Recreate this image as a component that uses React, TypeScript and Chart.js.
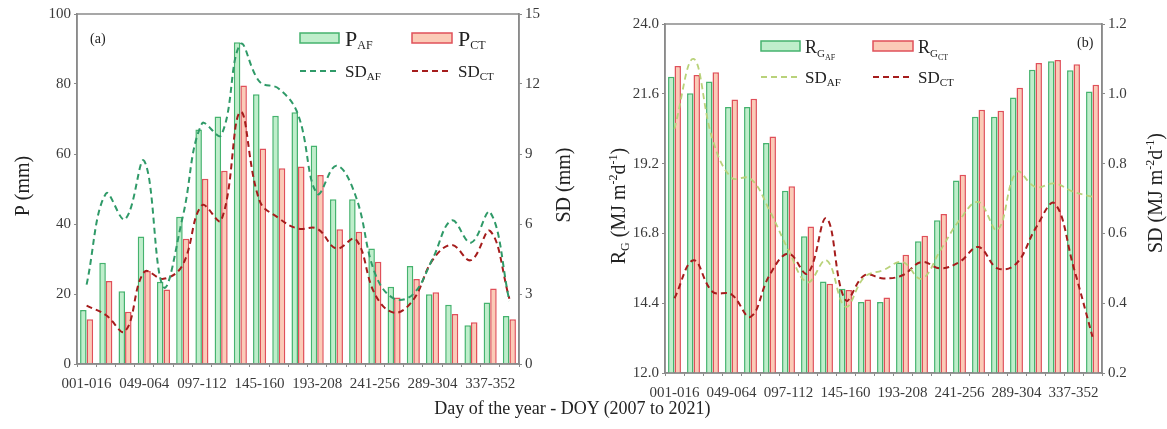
import React, { useEffect, useRef } from "react";
import { Chart, registerables } from "chart.js";
Chart.register(...registerables);

const categories = ["001-016","017-032","033-048","049-064","065-080","081-096","097-112","113-128","129-144","145-160","161-176","177-192","193-208","209-224","225-240","241-256","257-272","273-288","289-304","305-320","321-336","337-352","353-365"];

const pAF = [15.4, 28.9, 20.8, 36.4, 23.5, 42.1, 67.0, 70.7, 91.9, 77.1, 70.9, 71.9, 62.4, 47.1, 47.1, 33.0, 22.1, 28.0, 19.9, 16.9, 11.1, 17.6, 13.7];
const pCT = [12.8, 23.7, 14.9, 26.6, 21.3, 35.8, 52.9, 55.2, 79.6, 61.6, 55.9, 56.4, 54.0, 38.5, 37.8, 29.2, 19.0, 24.3, 20.5, 14.3, 11.9, 21.6, 12.8];
const sdPAF = [3.4, 7.3, 6.2, 8.7, 3.3, 6.3, 10.3, 9.8, 13.7, 12.1, 11.8, 10.7, 7.3, 8.5, 7.2, 3.9, 2.8, 3.0, 4.5, 6.15, 5.2, 6.5, 2.7];
const sdPCT = [2.5, 2.1, 1.4, 3.95, 3.65, 4.25, 6.8, 6.15, 10.8, 7.0, 6.25, 5.8, 5.8, 4.95, 5.35, 3.0, 2.2, 2.75, 4.45, 5.1, 4.45, 5.7, 2.8];

const rgAF = [22.19, 21.62, 22.02, 21.15, 21.15, 19.91, 18.27, 16.7, 15.15, 14.9, 14.44, 14.44, 15.8, 16.53, 17.25, 18.62, 20.81, 20.81, 21.47, 22.43, 22.72, 22.41, 21.68];
const rgCT = [22.56, 22.25, 22.34, 21.4, 21.43, 20.13, 18.42, 17.04, 15.07, 14.85, 14.53, 14.6, 16.07, 16.72, 17.47, 18.82, 21.05, 21.02, 21.81, 22.66, 22.76, 22.62, 21.91];
const sdRAF = [0.9, 1.1, 0.87, 0.76, 0.757, 0.666, 0.552, 0.46, 0.523, 0.39, 0.475, 0.495, 0.518, 0.47, 0.552, 0.638, 0.69, 0.61, 0.776, 0.733, 0.743, 0.719, 0.705];
const sdRCT = [0.414, 0.523, 0.433, 0.425, 0.361, 0.48, 0.542, 0.485, 0.643, 0.409, 0.48, 0.471, 0.48, 0.518, 0.5, 0.518, 0.561, 0.5, 0.514, 0.614, 0.686, 0.504, 0.304];

const FONT = "'Liberation Serif', 'Times New Roman', serif";
const GREEN_B = "#45b36e";
const GREEN_F = "rgba(170,232,185,0.75)";
const RED_B = "#e0505a";
const RED_F = "rgba(250,190,165,0.8)";
const SD_AF_L = "#2f9a68";
const SD_CT_C = "#a51c1c";
const SD_AF_R = "#b9d27a";
const AXIS = "#8a8a8a";
const TICK = "#3a3a3a";

type Part = { t: string; s: number; dy?: number };

function richWidth(ctx: CanvasRenderingContext2D, parts: Part[]) {
  let w = 0;
  for (const p of parts) {
    ctx.font = `${p.s}px ${FONT}`;
    w += ctx.measureText(p.t).width;
  }
  return w;
}

function drawRich(ctx: CanvasRenderingContext2D, x: number, y: number, parts: Part[], color = "#222") {
  ctx.save();
  ctx.fillStyle = color;
  ctx.textBaseline = "alphabetic";
  ctx.textAlign = "left";
  let cx = x;
  for (const p of parts) {
    ctx.font = `${p.s}px ${FONT}`;
    ctx.fillText(p.t, cx, y + (p.dy || 0));
    cx += ctx.measureText(p.t).width;
  }
  ctx.restore();
}

function drawRotated(ctx: CanvasRenderingContext2D, cx: number, cy: number, parts: Part[], size: number) {
  ctx.save();
  ctx.translate(cx, cy);
  ctx.rotate(-Math.PI / 2);
  const w = richWidth(ctx, parts);
  drawRich(ctx, -w / 2, size * 0.35, parts);
  ctx.restore();
}

function legendBox(ctx: CanvasRenderingContext2D, x: number, y: number, w: number, h: number, fill: string, border: string) {
  ctx.save();
  ctx.fillStyle = fill;
  ctx.strokeStyle = border;
  ctx.lineWidth = 1.5;
  ctx.fillRect(x, y, w, h);
  ctx.strokeRect(x, y, w, h);
  ctx.restore();
}

function legendLine(ctx: CanvasRenderingContext2D, x: number, y: number, w: number, color: string, lw: number) {
  ctx.save();
  ctx.strokeStyle = color;
  ctx.lineWidth = lw;
  ctx.setLineDash([6, 4]);
  ctx.beginPath();
  ctx.moveTo(x, y);
  ctx.lineTo(x + w, y);
  ctx.stroke();
  ctx.restore();
}

function frame(chart: any) {
  const { ctx, chartArea: a } = chart;
  ctx.save();
  ctx.strokeStyle = AXIS;
  ctx.lineWidth = 1.5;
  ctx.strokeRect(a.left, a.top, a.right - a.left, a.bottom - a.top);
  ctx.restore();
}

const tickFont = { family: FONT, size: 15 };

function makeOptions(cfg: any) {
  return {
    responsive: false,
    animation: false,
    layout: { padding: { top: cfg.top, left: 0, right: 0, bottom: 0 } },
    plugins: { legend: { display: false }, tooltip: { enabled: false } },
    scales: {
      x: {
        type: "category",
        offset: true,
        grid: { display: true, drawOnChartArea: false, drawTicks: true, tickLength: 3, color: AXIS, offset: true },
        border: { display: true, color: AXIS, width: 1.5 },
        ticks: {
          autoSkip: false,
          maxRotation: 0,
          minRotation: 0,
          padding: cfg.xPad,
          color: TICK,
          font: tickFont,
          callback: (_v: any, i: number) => (i % 3 === 0 ? categories[i] : ""),
        },
        afterFit: (s: any) => { s.height = cfg.xH; },
      },
      y: {
        position: "left",
        min: cfg.yMin, max: cfg.yMax,
        grid: { drawOnChartArea: false, tickLength: 3, color: AXIS },
        border: { display: true, color: AXIS, width: 1.5 },
        ticks: { stepSize: cfg.yStep, color: TICK, font: tickFont, padding: 3, callback: cfg.yFmt },
        afterFit: (s: any) => { s.width = cfg.yW; },
      },
      y2: {
        position: "right",
        min: cfg.y2Min, max: cfg.y2Max,
        grid: { drawOnChartArea: false, tickLength: 3, color: AXIS },
        border: { display: true, color: AXIS, width: 1.5 },
        ticks: { stepSize: cfg.y2Step, color: TICK, font: tickFont, padding: 3, callback: cfg.y2Fmt },
        afterFit: (s: any) => { s.width = cfg.y2W; },
      },
    },
  };
}

function barDs(label: string, data: number[], fill: string, border: string) {
  return {
    type: "bar", label, data, yAxisID: "y",
    backgroundColor: fill, borderColor: border, borderWidth: 1.5,
    categoryPercentage: 0.68, barPercentage: 1.0, order: 2,
  };
}

function lineDs(label: string, data: number[], color: string, lw: number) {
  return {
    type: "line", label, data, yAxisID: "y2",
    borderColor: color, borderWidth: lw, borderDash: [6, 4],
    pointRadius: 0, tension: 0.4, fill: false, order: 1,
  };
}

export default function App() {
  const ref1 = useRef<HTMLCanvasElement>(null);
  const ref2 = useRef<HTMLCanvasElement>(null);

  useEffect(() => {
    document.body.style.margin = "0";
    const plugin1 = {
      id: "deco1",
      afterDraw(chart: any) {
        const ctx = chart.ctx;
        frame(chart);
        drawRich(ctx, 90, 43, [{ t: "(a)", s: 14 }]);
        legendBox(ctx, 300, 33, 39, 10, GREEN_F, GREEN_B);
        drawRich(ctx, 345, 46, [{ t: "P", s: 22 }, { t: "AF", s: 12, dy: 3 }]);
        legendBox(ctx, 412, 33, 40, 10, RED_F, RED_B);
        drawRich(ctx, 458, 46, [{ t: "P", s: 22 }, { t: "CT", s: 12, dy: 3 }]);
        legendLine(ctx, 300, 71, 39, SD_AF_L, 2);
        drawRich(ctx, 345, 77, [{ t: "SD", s: 17 }, { t: "AF", s: 11, dy: 3 }]);
        legendLine(ctx, 412, 71, 40, SD_CT_C, 2);
        drawRich(ctx, 458, 77, [{ t: "SD", s: 17 }, { t: "CT", s: 11, dy: 3 }]);
        drawRotated(ctx, 22, 186, [{ t: "P (mm)", s: 20 }], 20);
        drawRotated(ctx, 563, 185, [{ t: "SD (mm)", s: 20 }], 20);
      },
    };
    const plugin2 = {
      id: "deco2",
      afterDraw(chart: any) {
        const ctx = chart.ctx;
        frame(chart);
        drawRich(ctx, 494, 47, [{ t: "(b)", s: 14 }]);
        legendBox(ctx, 178, 41, 39, 10, GREEN_F, GREEN_B);
        drawRich(ctx, 222, 53, [{ t: "R", s: 18 }, { t: "G", s: 11, dy: 4 }, { t: "AF", s: 8, dy: 7 }]);
        legendBox(ctx, 290, 41, 40, 10, RED_F, RED_B);
        drawRich(ctx, 335, 53, [{ t: "R", s: 18 }, { t: "G", s: 11, dy: 4 }, { t: "CT", s: 8, dy: 7 }]);
        legendLine(ctx, 178, 77, 39, SD_AF_R, 1.8);
        drawRich(ctx, 222, 83, [{ t: "SD", s: 17 }, { t: "AF", s: 11, dy: 3 }]);
        legendLine(ctx, 290, 77, 40, SD_CT_C, 2);
        drawRich(ctx, 335, 83, [{ t: "SD", s: 17 }, { t: "CT", s: 11, dy: 3 }]);
        drawRotated(ctx, 35, 206, [
          { t: "R", s: 20 }, { t: "G", s: 12, dy: 4 }, { t: " (MJ m", s: 20 }, { t: "-2", s: 12, dy: -8 },
          { t: "d", s: 20 }, { t: "-1", s: 12, dy: -8 }, { t: ")", s: 20 },
        ], 20);
        drawRotated(ctx, 572, 193, [
          { t: "SD (MJ m", s: 20 }, { t: "-2", s: 12, dy: -8 },
          { t: "d", s: 20 }, { t: "-1", s: 12, dy: -8 }, { t: ")", s: 20 },
        ], 20);
      },
    };

    const c1 = new Chart(ref1.current as HTMLCanvasElement, {
      type: "bar",
      data: {
        labels: categories,
        datasets: [
          barDs("P_AF", pAF, GREEN_F, GREEN_B),
          barDs("P_CT", pCT, RED_F, RED_B),
          lineDs("SD_AF", sdPAF, SD_AF_L, 2),
          lineDs("SD_CT", sdPCT, SD_CT_C, 2),
        ] as any,
      },
      options: makeOptions({
        top: 14, xPad: 8, xH: 65,
        yMin: 0, yMax: 100, yStep: 20, yW: 77, yFmt: (v: number) => String(v),
        y2Min: 0, y2Max: 15, y2Step: 3, y2W: 64, y2Fmt: (v: number) => String(v),
      }) as any,
      plugins: [plugin1],
    });

    const c2 = new Chart(ref2.current as HTMLCanvasElement, {
      type: "bar",
      data: {
        labels: categories,
        datasets: [
          barDs("RG_AF", rgAF, GREEN_F, GREEN_B),
          barDs("RG_CT", rgCT, RED_F, RED_B),
          lineDs("SD_AF", sdRAF, SD_AF_R, 1.8),
          lineDs("SD_CT", sdRCT, SD_CT_C, 2),
        ] as any,
      },
      options: makeOptions({
        top: 24, xPad: 8, xH: 56,
        yMin: 12, yMax: 24, yStep: 2.4, yW: 82, yFmt: (v: number) => Number(v).toFixed(1),
        y2Min: 0.2, y2Max: 1.2, y2Step: 0.2, y2W: 65, y2Fmt: (v: number) => Number(v).toFixed(1),
      }) as any,
      plugins: [plugin2],
    });

    return () => {
      c1.destroy();
      c2.destroy();
    };
  }, []);

  return (
    <div style={{ position: "relative", width: 1167, height: 429, background: "#fff", overflow: "hidden" }}>
      <canvas ref={ref1} width={583} height={429} style={{ position: "absolute", left: 0, top: 0, width: 583, height: 429 }} />
      <canvas ref={ref2} width={584} height={429} style={{ position: "absolute", left: 583, top: 0, width: 584, height: 429 }} />
      <div style={{ position: "absolute", left: 0, width: 1145, top: 397, textAlign: "center", fontFamily: FONT, fontSize: 18, color: "#222", lineHeight: "22px" }}>
        Day of the year - DOY (2007 to 2021)
      </div>
    </div>
  );
}
